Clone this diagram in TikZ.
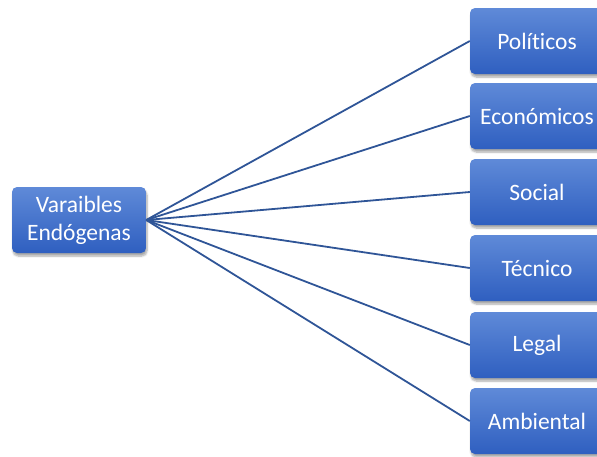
\documentclass[tikz,border=0pt]{standalone}
\usepackage{fontspec}
\setmainfont{Carlito}[Ligatures=NoCommon]
\usetikzlibrary{shadows.blur}
\definecolor{boxtop}{HTML}{5F8AD8}
\definecolor{boxbot}{HTML}{2F5FC0}
\definecolor{linkblue}{HTML}{2F5597}
\tikzset{
  box/.style={rounded corners=5pt, minimum width=134pt, minimum height=66pt,
    top color=boxtop, bottom color=boxbot, draw=none, text=white,
    font=\fontsize{23.5}{28}\selectfont, align=center, inner sep=2pt,
    blur shadow={shadow xshift=1pt, shadow yshift=-3pt, shadow blur steps=6, shadow opacity=35}},
  link/.style={draw=linkblue, line width=1.8pt}
}
\begin{document}
\begin{tikzpicture}[x=1pt,y=1pt]
\useasboundingbox (0,0) rectangle (597,-456);
\begin{scope}
\clip (0,0) rectangle (597,-456);
\node[box] (src) at (79,-220) {Varaibles\\Endógenas};
\node[box] (pol) at (537,-41) {Políticos};
\node[box] (eco) at (537,-116) {Económicos};
\node[box] (soc) at (537,-192) {Social};
\node[box] (tec) at (537,-268) {Técnico};
\node[box] (leg) at (537,-345) {Legal};
\node[box] (amb) at (537,-421) {Ambiental};
\foreach \t in {pol,eco,soc,tec,leg,amb}
  \draw[link] (src.east) -- (\t.west);
\end{scope}
\end{tikzpicture}
\end{document}
